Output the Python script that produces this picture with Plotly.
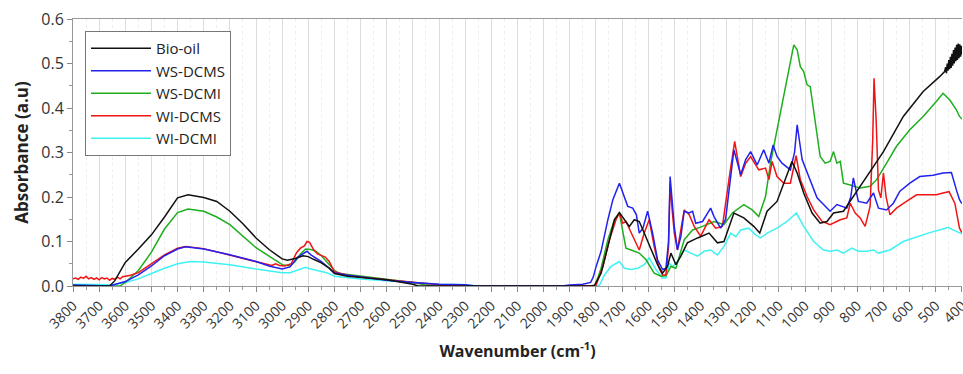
import plotly.graph_objects as go

# (wavenumber cm-1, absorbance a.u.)
bio_oil = [(3800,0.0),(3700,0.0),(3660,0.0),(3640,0.012),(3600,0.053),(3550,0.083),(3500,0.115),(3450,0.155),(3400,0.198),(3360,0.205),(3300,0.199),(3250,0.19),(3200,0.168),(3150,0.14),(3100,0.108),(3050,0.082),(3000,0.061),(2980,0.058),(2950,0.062),(2920,0.068),(2900,0.066),(2880,0.06),(2850,0.052),(2820,0.04),(2800,0.028),(2750,0.022),(2700,0.019),(2600,0.014),(2500,0.004),(2480,0.0),(2300,0.0),(2000,0.0),(1820,0.0),(1805,0.002),(1780,0.029),(1754,0.089),(1729,0.149),(1710,0.165),(1691,0.149),(1672,0.134),(1653,0.149),(1634,0.145),(1615,0.119),(1589,0.081),(1564,0.048),(1545,0.029),(1526,0.044),(1513,0.074),(1494,0.048),(1475,0.067),(1450,0.097),(1411,0.108),(1367,0.119),(1335,0.097),(1310,0.1),(1272,0.164),(1234,0.153),(1196,0.134),(1173,0.119),(1145,0.168),(1107,0.19),(1081,0.231),(1050,0.28),(1030,0.254),(1005,0.209),(973,0.164),(942,0.141),(916,0.145),(891,0.164),(853,0.168),(815,0.201),(764,0.246),(700,0.302),(624,0.381),(548,0.437),(484,0.471),(466,0.482),(462,0.492),(459,0.478),(456,0.5),(453,0.484),(450,0.508),(447,0.487),(444,0.515),(441,0.49),(438,0.522),(435,0.495),(432,0.53),(429,0.5),(426,0.536),(423,0.505),(420,0.542),(417,0.508),(414,0.545),(411,0.512),(408,0.543),(405,0.515),(402,0.54),(400,0.52)]

ws_dcms = [(3800,0.002),(3750,0.001),(3700,0.0),(3660,0.0),(3600,0.01),(3550,0.025),(3500,0.045),(3450,0.068),(3400,0.083),(3370,0.088),(3300,0.083),(3200,0.07),(3100,0.055),(3050,0.045),(3000,0.038),(2970,0.043),(2940,0.065),(2920,0.072),(2905,0.078),(2890,0.07),(2870,0.062),(2850,0.055),(2820,0.04),(2800,0.03),(2750,0.024),(2700,0.02),(2600,0.013),(2500,0.008),(2400,0.004),(2300,0.003),(2260,0.0),(2000,0.0),(1930,0.0),(1900,0.002),(1850,0.004),(1820,0.008),(1810,0.02),(1799,0.044),(1780,0.078),(1754,0.149),(1735,0.194),(1710,0.231),(1700,0.215),(1691,0.201),(1678,0.179),(1659,0.175),(1645,0.16),(1634,0.119),(1620,0.13),(1602,0.168),(1583,0.119),(1564,0.059),(1545,0.037),(1532,0.04),(1522,0.1),(1516,0.246),(1508,0.18),(1500,0.134),(1488,0.081),(1475,0.111),(1462,0.168),(1443,0.164),(1430,0.168),(1418,0.141),(1392,0.145),(1361,0.175),(1348,0.156),(1323,0.13),(1304,0.149),(1284,0.254),(1272,0.306),(1246,0.25),(1227,0.284),(1208,0.302),(1183,0.272),(1158,0.306),(1138,0.276),(1122,0.317),(1107,0.291),(1088,0.276),(1056,0.261),(1040,0.3),(1030,0.362),(1011,0.284),(980,0.239),(954,0.198),(929,0.183),(904,0.168),(878,0.183),(840,0.175),(825,0.2),(815,0.243),(796,0.19),(764,0.186),(738,0.209),(719,0.175),(688,0.171),(662,0.186),(637,0.213),(599,0.231),(561,0.246),(510,0.249),(472,0.254),(440,0.255),(421,0.216),(409,0.194),(400,0.185)]

ws_dcmi = [(3800,0.0),(3700,0.0),(3620,0.0),(3600,0.008),(3550,0.035),(3500,0.076),(3450,0.128),(3400,0.165),(3360,0.173),(3300,0.168),(3250,0.155),(3200,0.138),(3150,0.112),(3100,0.086),(3050,0.067),(3000,0.048),(2970,0.045),(2950,0.055),(2930,0.072),(2910,0.083),(2890,0.082),(2870,0.078),(2850,0.068),(2820,0.048),(2800,0.035),(2780,0.028),(2700,0.022),(2600,0.015),(2500,0.008),(2450,0.002),(2420,0.0),(2000,0.0),(1810,0.0),(1802,0.002),(1780,0.04),(1754,0.104),(1729,0.149),(1710,0.164),(1697,0.119),(1685,0.085),(1665,0.081),(1634,0.074),(1608,0.059),(1577,0.029),(1551,0.022),(1532,0.023),(1513,0.044),(1494,0.04),(1462,0.104),(1430,0.126),(1392,0.134),(1348,0.145),(1310,0.138),(1278,0.164),(1234,0.183),(1202,0.171),(1177,0.156),(1151,0.201),(1132,0.276),(1107,0.351),(1081,0.426),(1062,0.486),(1043,0.542),(1030,0.531),(1018,0.493),(1005,0.482),(992,0.452),(980,0.448),(967,0.396),(942,0.291),(923,0.276),(904,0.28),(891,0.302),(878,0.276),(865,0.28),(853,0.231),(827,0.227),(789,0.22),(751,0.224),(726,0.239),(688,0.276),(650,0.314),(599,0.351),(548,0.381),(497,0.415),(472,0.433),(446,0.418),(421,0.396),(409,0.381),(400,0.375)]

wi_dcms = [(3800,0.016),(3790,0.018),(3780,0.015),(3770,0.02),(3760,0.017),(3750,0.022),(3740,0.016),(3730,0.019),(3720,0.015),(3710,0.018),(3700,0.014),(3690,0.019),(3680,0.016),(3670,0.018),(3660,0.013),(3650,0.017),(3640,0.015),(3630,0.02),(3620,0.016),(3610,0.021),(3600,0.022),(3580,0.024),(3550,0.03),(3500,0.05),(3450,0.07),(3400,0.085),(3370,0.089),(3300,0.084),(3200,0.07),(3100,0.055),(3040,0.046),(3025,0.05),(3010,0.046),(2990,0.045),(2965,0.05),(2945,0.075),(2930,0.085),(2915,0.09),(2905,0.1),(2895,0.098),(2880,0.082),(2865,0.072),(2850,0.068),(2835,0.065),(2820,0.055),(2800,0.032),(2750,0.024),(2700,0.02),(2600,0.014),(2500,0.008),(2400,0.003),(2380,0.0),(2000,0.0),(1810,0.0),(1799,0.002),(1773,0.044),(1748,0.104),(1723,0.149),(1710,0.164),(1697,0.141),(1685,0.145),(1665,0.119),(1646,0.097),(1634,0.081),(1615,0.119),(1596,0.149),(1577,0.089),(1558,0.04),(1545,0.025),(1532,0.025),(1522,0.09),(1516,0.231),(1508,0.17),(1500,0.119),(1488,0.081),(1462,0.171),(1443,0.16),(1424,0.134),(1399,0.112),(1367,0.149),(1342,0.13),(1316,0.134),(1291,0.239),(1269,0.325),(1246,0.246),(1227,0.276),(1208,0.291),(1177,0.261),(1151,0.265),(1138,0.239),(1126,0.28),(1107,0.246),(1081,0.231),(1056,0.231),(1034,0.293),(1018,0.239),(992,0.201),(967,0.171),(935,0.145),(904,0.138),(865,0.149),(840,0.153),(827,0.186),(808,0.164),(789,0.153),(770,0.134),(751,0.179),(741,0.329),(736,0.467),(728,0.374),(719,0.216),(710,0.198),(700,0.254),(690,0.201),(675,0.16),(650,0.175),(612,0.19),(573,0.205),(535,0.205),(497,0.205),(472,0.209),(449,0.212),(427,0.186),(415,0.149),(409,0.13),(400,0.12)]

wi_dcmi = [(3800,0.004),(3700,0.003),(3650,0.003),(3600,0.008),(3550,0.016),(3500,0.028),(3450,0.04),(3400,0.05),(3350,0.055),(3300,0.054),(3200,0.048),(3100,0.038),(3000,0.03),(2970,0.03),(2950,0.034),(2930,0.038),(2910,0.042),(2890,0.038),(2860,0.034),(2830,0.03),(2800,0.022),(2700,0.016),(2600,0.012),(2500,0.008),(2400,0.004),(2300,0.003),(2250,0.0),(2000,0.0),(1800,0.0),(1786,0.002),(1767,0.025),(1742,0.044),(1710,0.055),(1691,0.04),(1665,0.037),(1640,0.04),(1615,0.048),(1596,0.063),(1570,0.037),(1545,0.018),(1532,0.018),(1519,0.051),(1507,0.044),(1488,0.055),(1462,0.081),(1437,0.074),(1411,0.067),(1386,0.078),(1361,0.081),(1335,0.07),(1310,0.089),(1284,0.119),(1265,0.111),(1246,0.126),(1215,0.13),(1189,0.115),(1170,0.108),(1145,0.119),(1107,0.13),(1069,0.145),(1033,0.164),(1005,0.134),(967,0.1),(929,0.081),(904,0.078),(878,0.081),(853,0.074),(821,0.085),(796,0.078),(764,0.078),(738,0.081),(719,0.074),(675,0.081),(624,0.1),(573,0.111),(523,0.12),(472,0.128),(453,0.132),(434,0.126),(409,0.119),(400,0.117)]

# drawing order (bottom to top), legend rank keeps the reference legend order
series = [
    ("WI-DCMI", wi_dcmi, "#3ff2f2", 5),
    ("WS-DCMI", ws_dcmi, "#1fae1f", 3),
    ("WI-DCMS", wi_dcms, "#f01414", 4),
    ("WS-DCMS", ws_dcms, "#2222f0", 2),
    ("Bio-oil", bio_oil, "#111111", 1),
]

fig = go.Figure()
for name, pts, color, rank in series:
    fig.add_trace(go.Scatter(
        x=[p[0] for p in pts], y=[p[1] for p in pts], mode="lines", name=name,
        line=dict(color=color, width=1.5), legendrank=rank))

fig.update_layout(
    width=963, height=374,
    margin=dict(l=73, r=1, t=19, b=88, autoexpand=False),
    paper_bgcolor="white", plot_bgcolor="white",
    font=dict(family="Open Sans", size=14, color="#333333"),
    showlegend=True,
    legend=dict(x=0.0135, y=0.955, xanchor="left", yanchor="top",
                bordercolor="#777777", borderwidth=1, bgcolor="white",
                font=dict(family="Open Sans", size=15, color="#222222"),
                tracegroupgap=0, itemwidth=60),
    xaxis=dict(range=[3800, 399.5], tick0=400, dtick=100, tickangle=-45,
               tickfont=dict(family="Open Sans", size=14, color="#333333"),
               ticklabeloverflow="allow", automargin=False,
               ticks="outside", ticklen=5, tickcolor="#888888",
               showline=True, linecolor="#999999", linewidth=1, mirror=True,
               showgrid=True, gridcolor="#dddddd", gridwidth=1, zeroline=False,
               minor=dict(dtick=50, ticks="outside", ticklen=3, tickcolor="#999999",
                          showgrid=True, gridcolor="#eeeeee", griddash="dot"),
               title=dict(text="<b>Wavenumber (cm<sup>-1</sup>)</b>",
                          font=dict(family="Open Sans", size=16, color="#222222"),
                          standoff=14)),
    yaxis=dict(range=[0, 0.6], dtick=0.1, tickformat=".1f", automargin=False,
               tickfont=dict(family="Open Sans", size=16, color="#333333"),
               ticks="outside", ticklen=5, tickcolor="#888888",
               showline=True, linecolor="#999999", linewidth=1,
               showgrid=False, zeroline=False,
               minor=dict(dtick=0.05, ticks="outside", ticklen=3, tickcolor="#999999"),
               title=dict(text="<b>Absorbance (a.u)</b>",
                          font=dict(family="Open Sans", size=17, color="#222222"),
                          standoff=8)),
)

fig.write_html("out.html")
